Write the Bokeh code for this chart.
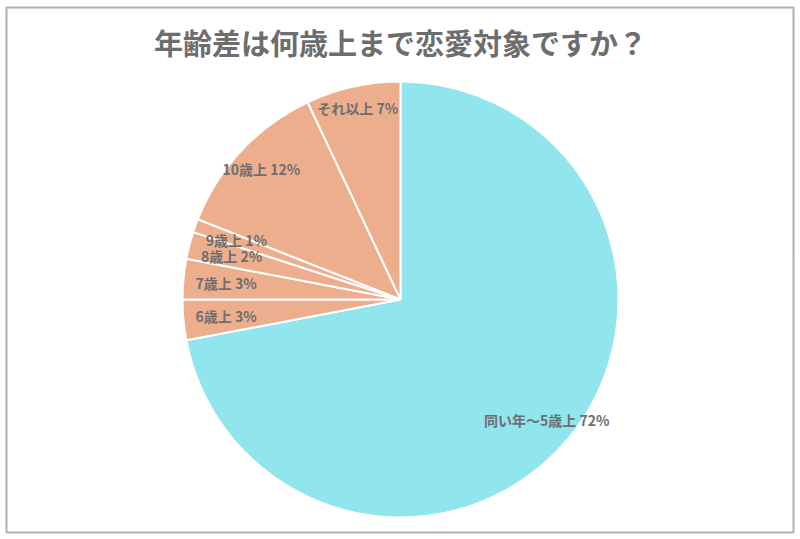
#===========================
#       Built-In Imports
from math import pi, sin, cos

#===========================
#       Bokeh-Related Imports
from bokeh.core.properties import value
from bokeh.embed import file_html
from bokeh.models import ColumnDataSource, Range1d
from bokeh.plotting import figure
from bokeh.resources import INLINE

#-- chart data
title_text = "年齢差は何歳上まで恋愛対象ですか？"
categories = ["同い年〜5歳上", "6歳上", "7歳上", "8歳上", "9歳上", "10歳上", "それ以上"]
shares = [72, 3, 3, 2, 1, 12, 7]
colors = ["#91e5ec", "#edae8e", "#edae8e", "#edae8e", "#edae8e", "#edae8e", "#edae8e"]

#-- look
FONT = "Noto Sans CJK JP"
TEXT_COLOR = "#6e6e6e"
RADIUS = 218
LABEL_SIZE = 14


def _text_width(s, size=LABEL_SIZE):
    #-- rough width estimate of a bold label, used to keep labels inside slices
    w = 0
    for c in s:
        if ord(c) > 0x2000:
            w += size
        elif c == " ":
            w += size * 0.22
        elif c == "%":
            w += size * 0.87
        else:
            w += size * 0.57
    return w


def get_pie_figure():
    #-- data units are pixels, pie centre at the origin
    plot_fig = figure(
        width=800,
        height=539,
        x_range=Range1d(-400, 400),
        y_range=Range1d(-240, 299),
        output_backend="svg",
        toolbar_location=None,
        min_border=0,
    )
    plot_fig.axis.visible = False
    plot_fig.grid.visible = False
    plot_fig.background_fill_color = "white"
    plot_fig.border_fill_color = "white"
    plot_fig.outline_line_color = None

    #-- grey card frame
    plot_fig.quad(left=-394, right=393, top=292, bottom=-233,
                  fill_color=None, line_color="#b0b0b0", line_width=2)

    #-- wedges, clockwise from 12 o'clock
    total = float(sum(shares))
    starts, ends, mids = [], [], []
    acc = 0.0
    for v in shares:
        a0 = pi / 2 - 2 * pi * acc / total
        acc += v
        a1 = pi / 2 - 2 * pi * acc / total
        starts.append(a0)
        ends.append(a1)
        mids.append((a0 + a1) / 2)

    source = ColumnDataSource(data=dict(
        cat=categories, share=shares, color=colors, start=starts, end=ends,
    ))
    plot_fig.wedge(
        x=0, y=0, radius=RADIUS,
        start_angle="start", end_angle="end", direction="clock",
        fill_color="color", line_color="white", line_width=2,
        source=source,
    )

    #-- labels, pulled in from the rim so the text box stays inside the slice
    labels, lx, ly = [], [], []
    for cat, v, m in zip(categories, shares, mids):
        txt = f"{cat} {v}%"
        hw = _text_width(txt) / 2 + 2
        hh = 11
        vx, vy = cos(m), sin(m)
        ext = min(hw / max(abs(vx), 1e-6), hh / max(abs(vy), 1e-6))
        r = RADIUS - 11 - ext
        labels.append(txt)
        lx.append(r * vx)
        ly.append(r * vy)

    plot_fig.text(
        x=lx, y=ly, text=labels,
        text_font=value(FONT), text_font_style="bold",
        text_font_size=f"{LABEL_SIZE}px", text_color=TEXT_COLOR,
        text_align="center", text_baseline="middle",
    )

    #-- title
    plot_fig.text(
        x=[0], y=[258], text=[title_text],
        text_font=value(FONT), text_font_style="bold",
        text_font_size="29px", text_color="#6d6d6d",
        text_align="center", text_baseline="middle",
    )
    return plot_fig


p = get_pie_figure()
open("out.html", "w").write(file_html(p, INLINE))
